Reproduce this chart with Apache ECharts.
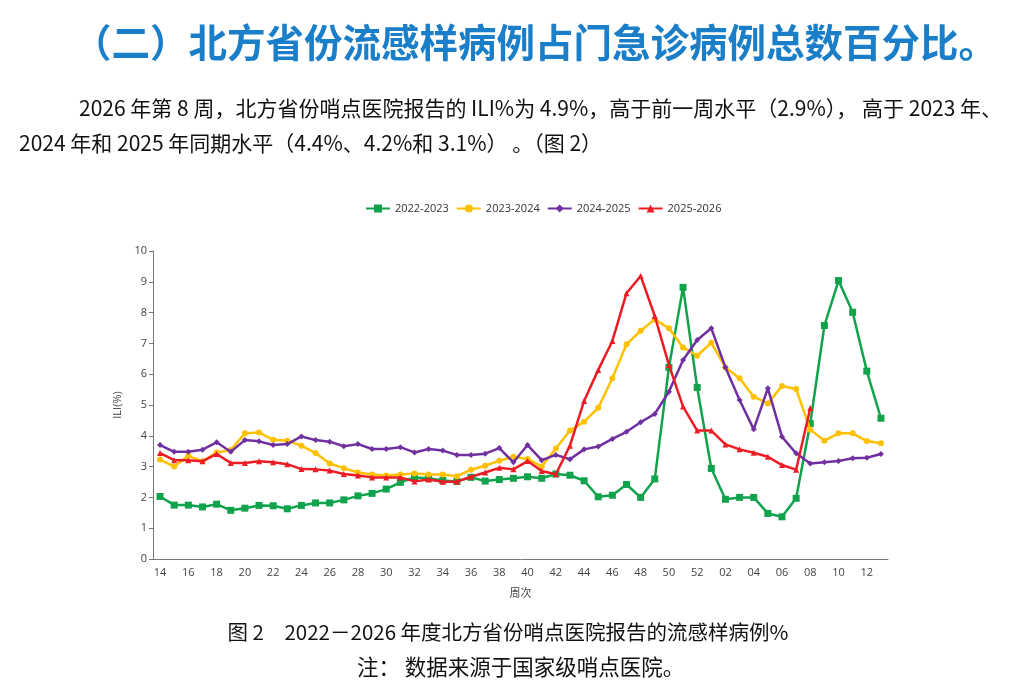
<!DOCTYPE html>
<html>
<head>
<meta charset="utf-8">
<script src="https://cdn.jsdelivr.net/npm/echarts@6/dist/echarts.min.js"></script>
<style>
  html, body { margin: 0; padding: 0; background: #fff; }
  #echart1 { width: 1016px; height: 693px; }
</style>
</head>
<body>
<div id="echart1"></div>
<script>
// 周次：14-52，01-13
const weeks = ['14','15','16','17','18','19','20','21','22','23','24','25','26','27','28','29','30','31','32','33','34','35','36','37','38','39','40','41','42','43','44','45','46','47','48','49','50','51','52','01','02','03','04','05','06','07','08','09','10','11','12','13'];
const seasons = ['2022-2023', '2023-2024', '2024-2025', '2025-2026'];
const ili2022 = [2.03,1.75,1.75,1.69,1.78,1.58,1.65,1.74,1.73,1.63,1.74,1.82,1.82,1.92,2.05,2.13,2.27,2.49,2.65,2.62,2.55,2.52,2.65,2.53,2.58,2.62,2.67,2.62,2.76,2.72,2.54,2.02,2.07,2.42,2.0,2.6,6.22,8.82,5.57,2.94,1.94,2.0,2.0,1.48,1.37,1.97,4.4,7.58,9.04,8.01,6.1,4.57];
const ili2023 = [3.23,3.0,3.35,3.17,3.46,3.54,4.08,4.11,3.87,3.84,3.68,3.44,3.1,2.95,2.81,2.74,2.71,2.74,2.78,2.74,2.74,2.69,2.9,3.03,3.19,3.32,3.25,3.0,3.59,4.17,4.46,4.91,5.87,6.97,7.41,7.78,7.49,6.87,6.6,7.02,6.22,5.87,5.27,5.05,5.62,5.52,4.2,3.84,4.08,4.08,3.83,3.76];
const ili2024 = [3.7,3.48,3.48,3.55,3.79,3.48,3.86,3.82,3.7,3.73,3.98,3.86,3.81,3.66,3.73,3.57,3.57,3.63,3.46,3.57,3.52,3.38,3.38,3.42,3.6,3.14,3.7,3.21,3.38,3.24,3.56,3.65,3.9,4.13,4.44,4.71,5.43,6.46,7.11,7.49,6.22,5.16,4.21,5.54,3.97,3.43,3.1,3.14,3.18,3.27,3.29,3.41];
const ili2025 = [3.44,3.21,3.21,3.17,3.41,3.12,3.12,3.17,3.14,3.08,2.92,2.91,2.87,2.76,2.71,2.65,2.65,2.65,2.52,2.58,2.51,2.51,2.67,2.81,2.96,2.91,3.18,2.86,2.75,3.68,5.13,6.14,7.08,8.63,9.19,7.89,6.3,4.95,4.17,4.17,3.72,3.56,3.45,3.32,3.05,2.9,4.9,null,null,null,null,null];

const colors = ['#10a34c', '#ffc000', '#7030a0', '#ec1c24'];
const symbols = ['rect', 'circle', 'diamond', 'triangle'];
const allData = [ili2022, ili2023, ili2024, ili2025];

let myChart = echarts.init(document.getElementById('echart1'));
const cjk = '"Noto Sans CJK SC", "Noto Sans", sans-serif';
myChart.setOption({
  animation: false,
  title: [
    {
      text: '（二）北方省份流感样病例占门急诊病例总数百分比。',
      left: 68, top: 18,
      textStyle: { color: '#1b7ec8', fontSize: 38.5, fontWeight: 'bold', fontFamily: cjk }
    },
    {
      text: '2026 年第 8 周，北方省份哨点医院报告的 ILI%为 4.9%，高于前一周水平（2.9%）， 高于 2023 年、',
      left: 74, top: 93,
      textStyle: { color: '#111', fontSize: 21, fontWeight: 'normal', fontFamily: cjk }
    },
    {
      text: '2024 年和 2025 年同期水平（4.4%、4.2%和 3.1%） 。（图 2）',
      left: 14, top: 128,
      textStyle: { color: '#111', fontSize: 21, fontWeight: 'normal', fontFamily: cjk }
    },
    {
      text: '图 2　2022－2026 年度北方省份哨点医院报告的流感样病例%',
      left: 'center', top: 617,
      textStyle: { color: '#111', fontSize: 20.5, fontWeight: 'normal', fontFamily: cjk }
    },
    {
      text: '注： 数据来源于国家级哨点医院。',
      left: 352, top: 651,
      textStyle: { color: '#111', fontSize: 21.5, fontWeight: 'normal', fontFamily: cjk }
    }
  ],
  legend: {
    data: seasons,
    top: 198,
    left: 360,
    itemWidth: 24,
    itemHeight: 10,
    itemGap: 7,
    textStyle: { color: '#333', fontSize: 11, fontFamily: 'Open Sans, sans-serif' }
  },
  grid: { left: 153, right: 128, top: 251, bottom: 134 },
  xAxis: {
    type: 'category',
    data: weeks,
    boundaryGap: true,
    name: '周次',
    nameLocation: 'middle',
    nameGap: 28,
    nameTextStyle: { color: '#444', fontSize: 11, fontFamily: cjk },
    axisLine: { lineStyle: { color: '#777', width: 1 } },
    axisTick: { alignWithLabel: true, interval: 1, length: 4, lineStyle: { color: '#777' } },
    axisLabel: { interval: 1, color: '#444', fontSize: 11, margin: 8, fontFamily: 'Open Sans, sans-serif' }
  },
  yAxis: {
    type: 'value',
    min: 0, max: 10, interval: 1,
    name: 'ILI(%)',
    nameLocation: 'middle',
    nameRotate: 90,
    nameGap: 30,
    nameTextStyle: { color: '#444', fontSize: 11, fontFamily: 'Open Sans, sans-serif' },
    axisLine: { show: true, lineStyle: { color: '#777', width: 1 } },
    axisTick: { show: true, length: 4, lineStyle: { color: '#777' } },
    splitLine: { show: false },
    axisLabel: { color: '#444', fontSize: 11, margin: 6, fontFamily: 'Open Sans, sans-serif' }
  },
  series: seasons.map((name, k) => ({
    name: name,
    type: 'line',
    data: allData[k],
    symbol: symbols[k],
    symbolSize: k === 0 ? 7 : 6,
    showAllSymbol: true,
    lineStyle: { color: colors[k], width: 2.5 },
    itemStyle: { color: colors[k] },
    z: 2 + k
  }))
});
</script>
</body>
</html>
